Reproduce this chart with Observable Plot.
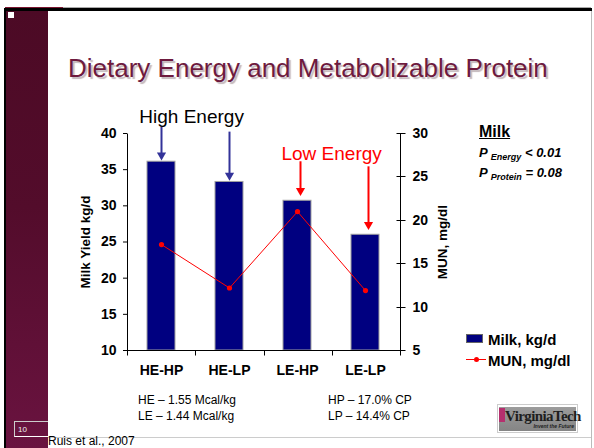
<!DOCTYPE html>
<html><head><meta charset="utf-8">
<script src="https://cdn.jsdelivr.net/npm/d3@7"></script>
<script src="https://cdn.jsdelivr.net/npm/@observablehq/plot@0.6"></script>
<style>
html,body{margin:0;padding:0;background:#fff;}
#slide{position:relative;width:594px;height:448px;overflow:hidden;font-family:"Liberation Sans",Arial,sans-serif;background:#fff;color:#000;}
.abs{position:absolute;white-space:nowrap;line-height:1;}
#chart{position:absolute;left:48px;top:95px;}
</style></head><body>
<div id="slide">
  <div class="abs" style="left:5px;top:7px;width:58px;height:1px;background:#7a1530"></div>
  <div class="abs" style="left:63px;top:7px;width:528px;height:1px;background:#aaa"></div>
  <div class="abs" style="left:4px;top:8px;width:588px;height:3px;background:#000"></div>
  <div class="abs" style="left:4px;top:8px;width:2px;height:440px;background:#000"></div>
  <div class="abs" style="left:6px;top:11px;width:42px;height:437px;background:linear-gradient(to bottom,#4c0a25 0%,#530c2b 45%,#6a1340 100%)"></div>
  <div class="abs" style="left:8px;top:12px;width:6px;height:6px;background:#fff"></div>
  <div class="abs" style="left:591px;top:11px;width:1px;height:437px;background:#bbb"></div>
  <div class="abs" style="left:48px;top:437px;width:543px;height:1px;background:#ccc"></div>
  <div class="abs" style="left:14px;top:421px;width:34px;height:16px;border-top:1px solid #ccc;border-left:1px solid #ccc;border-bottom:1px solid #fff;box-sizing:border-box;width:34px"></div>
  <div class="abs" style="left:18px;top:426px;font-size:8px;color:#eee">10</div>

  <div class="abs" id="title" style="left:68px;top:55px;font-size:26px;color:#6e1a3e;text-shadow:2px 2px 1px #c4b8bc">Dietary Energy and Metabolizable Protein</div>

  <div id="chart"></div>

  <div class="abs" style="left:479px;top:124px;font-size:16px;font-weight:bold;text-decoration:underline">Milk</div>
  <div class="abs" style="left:479px;top:146px;font-size:13px;font-weight:bold;font-style:italic">P <sub style="font-size:9px;vertical-align:-3px">Energy</sub> &lt; 0.01</div>
  <div class="abs" style="left:479px;top:166px;font-size:13px;font-weight:bold;font-style:italic">P <sub style="font-size:9px;vertical-align:-3px">Protein</sub> = 0.08</div>

  <div class="abs" style="left:466px;top:334px;width:17px;height:9px;background:#000080;border:1px solid #666;box-sizing:border-box"></div>
  <div class="abs" style="left:488px;top:332px;font-size:15px;font-weight:bold">Milk, kg/d</div>
  <div class="abs" style="left:466px;top:359px;width:20px;height:1px;background:#ff0000"></div>
  <div class="abs" style="left:474px;top:357px;width:5px;height:5px;border-radius:50%;background:#ff0000"></div>
  <div class="abs" style="left:488px;top:353px;font-size:15px;font-weight:bold">MUN, mg/dl</div>

  <div class="abs" style="left:138px;top:394px;font-size:12px">HE – 1.55 Mcal/kg</div>
  <div class="abs" style="left:138px;top:410px;font-size:12px">LE – 1.44 Mcal/kg</div>
  <div class="abs" style="left:328px;top:394px;font-size:12px">HP – 17.0% CP</div>
  <div class="abs" style="left:328px;top:410px;font-size:12px">LP – 14.4% CP</div>
  <div class="abs" style="left:48px;top:435px;font-size:12px">Ruis et al., 2007</div>

  <div class="abs" style="left:497px;top:404px;width:81px;height:29px;border:1px solid #ccc;box-sizing:border-box;background:#fff">
    <div style="position:absolute;left:1px;top:2px;width:77px;height:24px;background:linear-gradient(#9c9c9c,#858585)"></div>
    <div style="position:absolute;left:1px;top:3px;width:6px;height:14px;background:#b5306e"></div>
    <div style="position:absolute;left:7px;top:4px;font-family:'Liberation Serif',serif;font-weight:bold;font-size:15px;letter-spacing:-0.6px;color:#1e1e1e">VirginiaTech</div>
    <div style="position:absolute;right:3px;top:19px;font-size:5px;font-style:italic;font-weight:bold;color:#1e1e1e">Invent the Future</div>
  </div>
</div>
<script>
const categories = ["HE-HP", "HE-LP", "LE-HP", "LE-LP"];
const milkYield = [36.1, 33.3, 30.7, 26.0];     // kg/d, left axis
const munValues = [17.2, 12.2, 21.0, 11.9];     // mg/dl, right axis
const milkTicks = [10, 15, 20, 25, 30, 35, 40];
const munTicks = [5, 10, 15, 20, 25, 30];
const milkDomain = [10, 40];
const munDomain = [5, 30];
const axisTitles = ["Milk Yield kg/d", "MUN, mg/dl"];

const groupNames = ["High Energy", "Low Energy"];
const groupFirstCat = ["HE-HP", "LE-HP"];
const groupLabelY = [41.4, 36.4];
const groupColors = ["#000000", "#ff0000"];

const arrowCats = ["HE-HP", "HE-LP", "LE-HP", "LE-LP"];
const arrowTop = [40.2, 39.5, 35.4, 34.7];
const arrowTip = [36.3, 33.5, 31.4, 26.7];
const arrowColors = ["#333399", "#333399", "#ff0000", "#ff0000"];

const toMilk = v => milkDomain[0] + (v - munDomain[0]) * (milkDomain[1] - milkDomain[0]) / (munDomain[1] - munDomain[0]);
const fromMilk = v => Math.round(munDomain[0] + (v - milkDomain[0]) * (munDomain[1] - munDomain[0]) / (milkDomain[1] - milkDomain[0]));

const data = categories.map((c, i) => ({cat: c, milk: milkYield[i], mun: munValues[i]}));
const arrows = arrowCats.map((c, i) => ({cat: c, top: arrowTop[i], tip: arrowTip[i], color: arrowColors[i]}));
const groups = groupNames.map((g, i) => ({name: g, cat: groupFirstCat[i], y: groupLabelY[i], color: groupColors[i]}));

const W = 420, H = 290, ML = 79, MR = 68, MT = 38, MB = 35;
const step = (W - ML - MR) / categories.length;

const frameLines = (index, scales, values, dims) => {
  const {width, height, marginLeft, marginRight, marginBottom} = dims;
  const y = scales.y;
  const g = d3.create("svg:g").attr("stroke", "#000").attr("stroke-width", 1).attr("fill", "none");
  const yb = Math.round(height - marginBottom) + 0.5;
  const xl = Math.round(marginLeft) + 0.5;
  const xr = Math.round(width - marginRight) + 0.5;
  const yt = Math.round(y(milkDomain[1])) + 0.5;
  const st = (xr - xl) / categories.length;
  g.append("line").attr("x1", xl).attr("x2", xl).attr("y1", yt).attr("y2", yb);
  g.append("line").attr("x1", xl - 4).attr("x2", xr).attr("y1", yb).attr("y2", yb);
  g.append("line").attr("x1", xr).attr("x2", xr).attr("y1", yt).attr("y2", yb);
  for (const t of munTicks) {
    const yy = Math.round(y(toMilk(t))) + 0.5;
    g.append("line").attr("x1", xr - 4).attr("x2", xr + 5).attr("y1", yy).attr("y2", yy);
  }
  for (let i = 0; i <= categories.length; i++) {
    const xx = Math.round(xl + i * st - 0.5) + 0.5;
    g.append("line").attr("x1", xx).attr("x2", xx).attr("y1", yb).attr("y2", yb + 5);
  }
  return g.node();
};

const plot = Plot.plot({
  width: W, height: H,
  marginLeft: ML, marginRight: MR, marginTop: MT, marginBottom: MB,
  style: {fontFamily: "'Liberation Sans', Arial, sans-serif", fontSize: "14px", fontWeight: "bold", color: "#000", background: "transparent", overflow: "visible"},
  x: {type: "band", domain: categories, paddingInner: 0.585, paddingOuter: 0.2925, label: null},
  y: {domain: milkDomain, label: null},
  marks: [
    Plot.barY(data, {x: "cat", y1: () => milkDomain[0], y2: "milk", fill: "#000080", stroke: "#a0a0a0", strokeWidth: 1}),
    Plot.line(data, {x: "cat", y: d => toMilk(d.mun), stroke: "#ff0000", strokeWidth: 1}),
    Plot.dot(data, {x: "cat", y: d => toMilk(d.mun), fill: "#ff0000", r: 2.6}),
    Plot.ruleX(arrows.filter(d => d.color !== "#ff0000"), {x: "cat", y1: "top", y2: "tip", dy: -5, stroke: "color", strokeWidth: 2}),
    Plot.dot(arrows.filter(d => d.color !== "#ff0000"), {x: "cat", y: "tip", dy: -5, symbol: "triangle", rotate: 180, fill: "color", r: 3.4}),
    Plot.ruleX(arrows.filter(d => d.color === "#ff0000"), {x: "cat", y1: "top", y2: "tip", dx: 3, dy: -5, stroke: "color", strokeWidth: 2}),
    Plot.dot(arrows.filter(d => d.color === "#ff0000"), {x: "cat", y: "tip", dx: 3, dy: -5, symbol: "triangle", rotate: 180, fill: "color", r: 3.4}),
    Plot.text(groups.filter(d => d.color !== "#ff0000"), {x: "cat", y: "y", text: "name", fill: "color", dx: step / 2 - 4, lineAnchor: "bottom", fontSize: 19, fontWeight: "normal"}),
    Plot.text(groups.filter(d => d.color === "#ff0000"), {x: "cat", y: "y", text: "name", fill: "color", dx: step / 2, lineAnchor: "bottom", fontSize: 19, fontWeight: "normal"}),
    Plot.axisY({anchor: "left", ticks: milkTicks, tickSize: 4, tickPadding: 7, label: null, fontSize: 14}),
    Plot.axisY(munTicks.map(toMilk), {anchor: "right", tickFormat: fromMilk, tickSize: 0, tickPadding: 12, label: null, fontSize: 14}),
    Plot.axisX({tickSize: 0, tickPadding: 15, label: null, fontSize: 14}),
    Plot.text([axisTitles[0]], {frameAnchor: "left", text: d => d, rotate: -90, textAnchor: "middle", dx: -42, fontSize: 13.5}),
    Plot.text([axisTitles[1]], {frameAnchor: "right", text: d => d, rotate: -90, textAnchor: "middle", dx: 42, fontSize: 13.5}),
    frameLines
  ]
});
document.getElementById("chart").appendChild(plot);
</script>
</body></html>
